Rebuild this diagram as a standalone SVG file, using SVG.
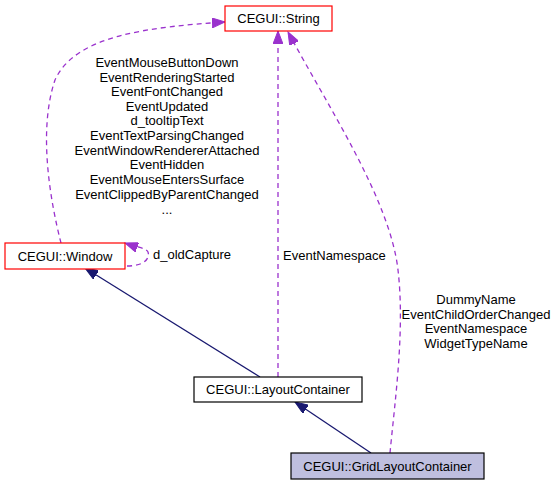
<svg xmlns="http://www.w3.org/2000/svg" width="556" height="485" viewBox="0 0 556 485">
<style>
text{font-family:"Liberation Sans",Arial,sans-serif;font-size:13px;fill:#000}
.c{text-anchor:middle}
.node{stroke-width:1.2}
.dep{fill:none;stroke:#9a32cd;stroke-width:1.3;stroke-dasharray:5,4}
.inh{fill:none;stroke:#191970;stroke-width:1.3}
</style>
<defs>
<marker id="ap" markerUnits="userSpaceOnUse" markerWidth="14" markerHeight="10" refX="13" refY="5" orient="auto" viewBox="0 0 14 10">
<path d="M0,0 L13,5 L0,10 z" fill="#9a32cd" stroke="#9a32cd" stroke-dasharray="none"/>
</marker>
<marker id="an" markerUnits="userSpaceOnUse" markerWidth="14" markerHeight="10" refX="13" refY="5" orient="auto" viewBox="0 0 14 10">
<path d="M0,0 L13,5 L0,10 z" fill="#191970" stroke="#191970"/>
</marker>
</defs>
<g id="edges">
<path class="dep" d="M61,243 C50,200 38,130 55,80 C75,35 150,27 225,22" marker-end="url(#ap)"/>
<path class="dep" d="M127,266 C145,266 150,258 148,252 C146,248 139,248 125,243" marker-end="url(#ap)"/>
<path class="dep" d="M278,377 L278,31" marker-end="url(#ap)"/>
<path class="dep" d="M390,453 C395,400 405,330 398,270 C390,200 330,110 288,32" marker-end="url(#ap)"/>
<path class="inh" d="M260,377 L85,268" marker-end="url(#an)"/>
<path class="inh" d="M371,453 L295,402" marker-end="url(#an)"/>
<g id="labels">
<text class="c" x="167" y="67">EventMouseButtonDown</text>
<text class="c" x="167" y="81.5">EventRenderingStarted</text>
<text class="c" x="167" y="96">EventFontChanged</text>
<text class="c" x="167" y="110.5">EventUpdated</text>
<text class="c" x="167" y="125">d_tooltipText</text>
<text class="c" x="167" y="140">EventTextParsingChanged</text>
<text class="c" x="167" y="154.5">EventWindowRendererAttached</text>
<text class="c" x="167" y="169">EventHidden</text>
<text class="c" x="167" y="184">EventMouseEntersSurface</text>
<text class="c" x="167" y="198.5">EventClippedByParentChanged</text>
<text class="c" x="167" y="214">...</text>
<text x="153" y="259">d_oldCapture</text>
<text x="283" y="259.5">EventNamespace</text>
<text class="c" x="476" y="303.5">DummyName</text>
<text class="c" x="476" y="318.5">EventChildOrderChanged</text>
<text class="c" x="476" y="333">EventNamespace</text>
<text class="c" x="476" y="347.5">WidgetTypeName</text>
</g>
</g>
<g id="node-string">
<rect class="node" x="225" y="6" width="107" height="25" fill="#fff" stroke="#ff0000"/>
<text class="c" x="278.5" y="23">CEGUI::String</text>
</g>
<g id="node-window">
<rect class="node" x="5" y="243" width="120" height="26" fill="#fff" stroke="#ff0000"/>
<text class="c" x="65" y="260.5">CEGUI::Window</text>
</g>
<g id="node-layoutcontainer">
<rect class="node" x="194" y="377" width="168" height="25" fill="#fff" stroke="#000"/>
<text class="c" x="278" y="394">CEGUI::LayoutContainer</text>
</g>
<g id="node-gridlayoutcontainer">
<rect class="node" x="291" y="453" width="193" height="26" fill="#bfbfdf" stroke="#000"/>
<text class="c" x="387.5" y="470.5">CEGUI::GridLayoutContainer</text>
</g>
</svg>
